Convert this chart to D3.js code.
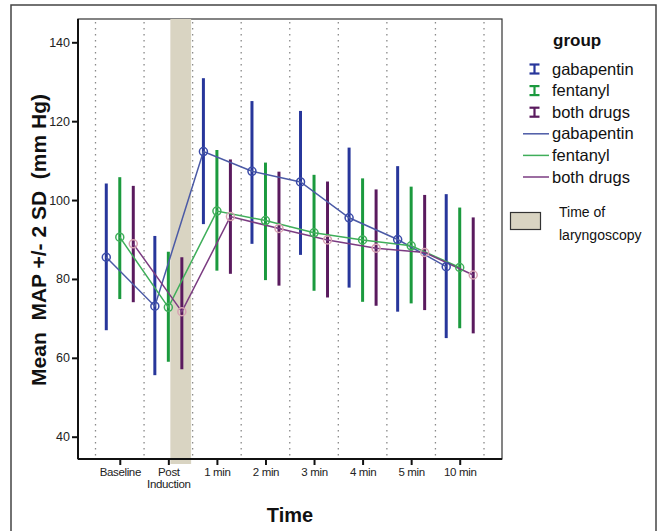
<!DOCTYPE html>
<html>
<head>
<meta charset="utf-8">
<script src="https://cdn.jsdelivr.net/npm/d3@7"></script>
<style>
	body { margin: 0; background: #fff; }
	text { font-family: "Liberation Sans", Arial, sans-serif; }
</style>
</head>
<body>
<div id="chart"></div>
<script>
// categories and groups
let times = ["Baseline", "Post Induction", "1 min", "2 min", "3 min", "4 min", "5 min", "10 min"];
let groups = ["gabapentin", "fentanyl", "both drugs"];

// mean MAP per group
let meanGaba = [85.5, 73.1, 112.3, 107.3, 104.6, 95.5, 90.0, 83.1];
let meanFent = [90.6, 72.8, 97.2, 94.8, 91.7, 89.9, 88.4, 82.9];
let meanBoth = [88.9, 71.7, 95.8, 92.8, 89.9, 87.8, 86.7, 81.0];

// error bar ends (+/- 2 SD)
let hiGaba = [104.2, 90.9, 130.9, 125.1, 122.6, 113.3, 108.6, 101.5];
let loGaba = [67.0, 55.6, 93.9, 88.9, 86.1, 77.8, 71.7, 65.0];
let hiFent = [105.8, 86.9, 112.7, 109.5, 106.4, 105.5, 103.4, 98.1];
let loFent = [74.9, 59.0, 82.1, 79.7, 77.0, 74.2, 73.8, 67.5];
let hiBoth = [103.6, 85.5, 110.3, 107.2, 104.7, 102.7, 101.3, 95.6];
let loBoth = [74.1, 57.1, 81.3, 78.3, 75.3, 73.2, 72.1, 66.2];

let yTicks = [40, 60, 80, 100, 120, 140];

let barColor = {"gabapentin": "#27369b", "fentanyl": "#1b9a3e", "both drugs": "#5a1a5e"};
let lineColor = {"gabapentin": "#4b5aa6", "fentanyl": "#3fae5a", "both drugs": "#7b3c82"};
let markColor = {"gabapentin": "#3a4aa8", "fentanyl": "#3fae5a", "both drugs": "#d7a3b3"};

let series = [
	{group: "gabapentin", mean: meanGaba, hi: hiGaba, lo: loGaba},
	{group: "fentanyl", mean: meanFent, hi: hiFent, lo: loFent},
	{group: "both drugs", mean: meanBoth, hi: hiBoth, lo: loBoth}
];

let W = 659, H = 531;
let plot = {left: 78, right: 502, top: 19, bottom: 459};

let svg = d3.select("#chart").append("svg")
	.attr("width", W)
	.attr("height", H);

// outer frame
svg.append("rect")
	.attr("x", 11).attr("y", 5)
	.attr("width", 645).attr("height", 540)
	.attr("fill", "none")
	.attr("stroke", "#444")
	.attr("stroke-width", 1.5);

let x = d3.scaleBand()
	.domain(times)
	.range([95.5, 484])
	.paddingInner(0)
	.paddingOuter(0);

let xg = d3.scalePoint()
	.domain(groups)
	.range([-13.5, 13.5]);

let y = d3.scaleLinear()
	.domain([40, 140])
	.range([436.7, 42.3]);

let cx = t => x(t) + x.bandwidth() / 2;

// plot box (thin top/right)
svg.append("rect")
	.attr("x", plot.left).attr("y", plot.top)
	.attr("width", plot.right - plot.left)
	.attr("height", plot.bottom - plot.top)
	.attr("fill", "none")
	.attr("stroke", "#333")
	.attr("stroke-width", 1.2);

// time of laryngoscopy shade
let shadeX0 = cx("Post Induction") + 2;
let shadeX1 = x("1 min") - 1.5;
svg.append("rect")
	.attr("x", shadeX0)
	.attr("y", plot.top)
	.attr("width", shadeX1 - shadeX0)
	.attr("height", plot.bottom - plot.top + 5)
	.attr("fill", "#d9d4c2");

// dotted separators
let seps = times.map(t => x(t)).concat([x(times[times.length - 1]) + x.bandwidth()]);
svg.selectAll(".sep")
	.data(seps)
	.enter()
	.append("line")
	.attr("class", "sep")
	.attr("x1", d => d).attr("x2", d => d)
	.attr("y1", plot.top + 3).attr("y2", plot.bottom - 2)
	.attr("stroke", "#8a8a8a")
	.attr("stroke-width", 1.3)
	.attr("stroke-dasharray", "1.5,4.5");

// error bars
series.forEach(s => {
	svg.selectAll(".bar-" + s.group.replace(" ", ""))
		.data(times)
		.enter()
		.append("line")
		.attr("x1", t => cx(t) + xg(s.group))
		.attr("x2", t => cx(t) + xg(s.group))
		.attr("y1", (t, i) => y(s.hi[i]))
		.attr("y2", (t, i) => y(s.lo[i]))
		.attr("stroke", barColor[s.group])
		.attr("stroke-width", 3);
});

// mean lines
let line = d3.line()
	.x(d => d[0])
	.y(d => d[1]);

series.forEach(s => {
	let pts = times.map((t, i) => [cx(t) + xg(s.group), y(s.mean[i])]);
	svg.append("path")
		.attr("d", line(pts))
		.attr("fill", "none")
		.attr("stroke", lineColor[s.group])
		.attr("stroke-width", 1.5);
});

// mean markers
series.forEach(s => {
	svg.selectAll(".mark-" + s.group.replace(" ", ""))
		.data(times)
		.enter()
		.append("circle")
		.attr("cx", t => cx(t) + xg(s.group))
		.attr("cy", (t, i) => y(s.mean[i]))
		.attr("r", 4)
		.attr("fill", "none")
		.attr("stroke", markColor[s.group])
		.attr("stroke-width", 1.5);
});

// y axis
let yAxis = d3.axisLeft(y)
	.tickValues(yTicks)
	.tickSize(6)
	.tickPadding(2);

let gy = svg.append("g")
	.attr("transform", "translate(" + plot.left + ",0)")
	.call(yAxis);
gy.select(".domain").remove();
gy.append("line")
	.attr("x1", 0).attr("x2", 0)
	.attr("y1", plot.top).attr("y2", plot.bottom)
	.attr("stroke", "#111").attr("stroke-width", 2);
gy.selectAll(".tick line").attr("stroke", "#111").attr("stroke-width", 2);
gy.selectAll(".tick text")
	.attr("fill", "#222")
	.style("font-size", "12.5px")
	.style("font-family", "'Liberation Sans', Arial, sans-serif");

// x axis
let xAxis = d3.axisBottom(d3.scalePoint().domain(times).range([cx(times[0]), cx(times[times.length - 1])]))
	.tickSize(6)
	.tickPadding(3);

let gx = svg.append("g")
	.attr("transform", "translate(0," + plot.bottom + ")")
	.call(xAxis);
gx.select(".domain").remove();
gx.append("line")
	.attr("x1", plot.left).attr("x2", plot.right)
	.attr("y1", 0).attr("y2", 0)
	.attr("stroke", "#111").attr("stroke-width", 2);
gx.selectAll(".tick line").attr("stroke", "#111").attr("stroke-width", 2);
gx.selectAll(".tick text")
	.attr("fill", "#222")
	.style("font-size", "11.5px")
	.style("letter-spacing", "-0.35px")
	.style("font-family", "'Liberation Sans', Arial, sans-serif")
	.each(function(d) {
		let el = d3.select(this);
		let words = d.split(" ");
		if (words.length > 1 && d === "Post Induction") {
			el.text(null);
			words.forEach((w, i) => {
				el.append("tspan")
					.attr("x", 0)
					.attr("dy", i === 0 ? "0.71em" : "1.0em")
					.text(w);
			});
		}
	});

// axis titles
svg.append("text")
	.attr("transform", "translate(46,240)rotate(-90)")
	.attr("text-anchor", "middle")
	.style("font-size", "21px")
	.style("font-weight", "bold")
	.attr("fill", "#111")
	.attr("xml:space", "preserve")
	.text("Mean  MAP +/- 2 SD  (mm Hg)");

svg.append("text")
	.attr("x", 290)
	.attr("y", 522)
	.attr("text-anchor", "middle")
	.style("font-size", "20px")
	.style("font-weight", "bold")
	.attr("fill", "#111")
	.text("Time");

// legend
let legend = svg.append("g");
legend.append("text")
	.attr("x", 553).attr("y", 46)
	.style("font-size", "17px")
	.style("font-weight", "bold")
	.attr("fill", "#111")
	.text("group");

let rowY = d3.scalePoint()
	.domain(d3.range(6))
	.range([69, 177]);

groups.forEach((g, i) => {
	let yy = rowY(i);
	let ic = legend.append("g").attr("stroke", barColor[g]).attr("stroke-width", 2.2);
	ic.append("line").attr("x1", 534.5).attr("x2", 534.5).attr("y1", yy - 4.5).attr("y2", yy + 4.5);
	ic.append("line").attr("x1", 529.5).attr("x2", 539.5).attr("y1", yy - 4.5).attr("y2", yy - 4.5);
	ic.append("line").attr("x1", 529.5).attr("x2", 539.5).attr("y1", yy + 4.5).attr("y2", yy + 4.5);
	legend.append("text")
		.attr("x", 552).attr("y", yy + 5.5)
		.style("font-size", "16.5px")
		.attr("fill", "#111")
		.text(g);
});

groups.forEach((g, i) => {
	let yy = rowY(i + 3);
	legend.append("line")
		.attr("x1", 523).attr("x2", 549)
		.attr("y1", yy).attr("y2", yy)
		.attr("stroke", lineColor[g])
		.attr("stroke-width", 1.5);
	legend.append("text")
		.attr("x", 552).attr("y", yy + 5.5)
		.style("font-size", "16.5px")
		.attr("fill", "#111")
		.text(g);
});

legend.append("rect")
	.attr("x", 510.5).attr("y", 212.5)
	.attr("width", 30).attr("height", 17)
	.attr("fill", "#d9d4c2")
	.attr("stroke", "#333")
	.attr("stroke-width", 1.2);
legend.append("text")
	.attr("x", 559).attr("y", 217)
	.style("font-size", "14px")
	.attr("fill", "#111")
	.text("Time of");
legend.append("text")
	.attr("x", 559).attr("y", 240)
	.style("font-size", "14px")
	.attr("fill", "#111")
	.text("laryngoscopy");
</script>
</body>
</html>
